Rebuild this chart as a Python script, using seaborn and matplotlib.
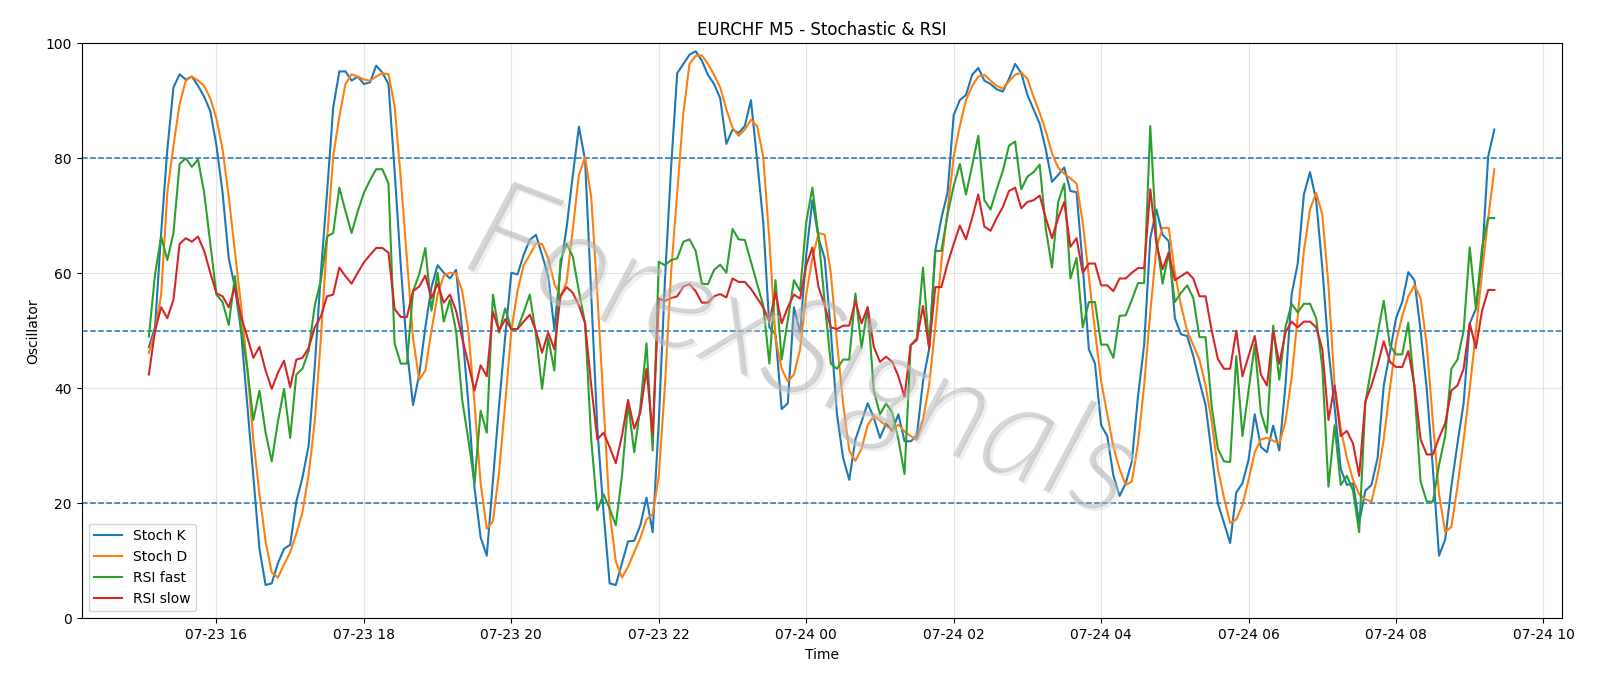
import numpy as np
import pandas as pd
import matplotlib
matplotlib.use("Agg")
import matplotlib.pyplot as plt
import matplotlib.dates as mdates
import matplotlib.patheffects as pe
import seaborn as sns

start_time = "2024-07-23 15:05"

stoch_k = [47.2, 50.6, 67, 81.5, 92.3, 94.6, 93.7, 94.2, 92.6, 90.7,
           88.2, 82.2, 74, 62.6, 57.6, 50, 37.4, 24.8, 12.1, 5.8,
           6.1, 9.6, 12.1, 12.8, 20.3, 24.5, 30, 43.7, 60.1, 74,
           88.8, 95.1, 95.1, 93.5, 94.2, 92.9, 93.2, 96.1, 94.9, 92.9,
           77.8, 61.4, 46.8, 37.1, 42.4, 50.6, 57.6, 61.4, 60.1, 59.1,
           60.6, 50, 37.4, 22.7, 14.1, 10.9, 24, 37, 49, 60.1,
           59.8, 63.2, 65.8, 66.7, 63.2, 59.5, 50.3, 61, 68, 77,
           85.5, 79.7, 56.3, 33, 18.5, 6.1, 5.8, 9.6, 13.4, 13.5,
           16.2, 21, 15, 34.2, 58.8, 78.4, 94.8, 96.4, 98, 98.6,
           97, 94.5, 92.9, 90.4, 82.5, 85, 84.4, 85.6, 90.1, 79.7,
           68.9, 50.6, 49.4, 36.4, 37.4, 54.1, 49.7, 63.2, 72.7, 66.1,
           62.6, 50, 35.5, 27.9, 24.1, 31.1, 34.2, 37.4, 34.9, 31.4,
           33.9, 32.6, 35.5, 30.8, 30.8, 31.7, 41.2, 46.8, 63.9, 69.6,
           74, 87.5, 90.1, 91, 94.5, 95.7, 93.5, 92.9, 92, 91.6,
           93.8, 96.4, 94.8, 91, 88.5, 86, 81.5, 75.9, 77.1, 78.4,
           74.3, 74.1, 61.4, 46.8, 44.3, 33.6, 31.7, 24.8, 21.3, 23.5,
           27.3, 38.6, 47.5, 66.1, 71.1, 66.7, 65.6, 52.2, 49.4, 49.1,
           45.6, 41.2, 37.1, 28.5, 20, 16.6, 13.1, 21.9, 23.5, 27.6,
           35.5, 29.8, 28.9, 33.5, 29.2, 40.5, 56.3, 61.7, 73.7, 77.6,
           72.7, 61, 46.8, 36.8, 26, 23.2, 23.5, 16.6, 22.2, 23.2,
           27.9, 40.5, 46.2, 52.2, 55, 60.2, 58.8, 50, 39.9, 26,
           10.9, 13.7, 22.9, 30.4, 37.4, 51.3, 53.8, 62.6, 80.3, 85]

stoch_d = [46.2, 50, 56.3, 74, 82.2, 89.4, 93.5, 94.2, 93.5, 92.6,
           90.4, 86.9, 81.5, 73.3, 63.9, 54.4, 43.7, 31.1, 21.6, 13.4,
           8, 7.1, 9.4, 11.5, 14.7, 18.5, 25, 34.2, 48.7, 65.8,
           80.3, 87.2, 92.9, 94.6, 94.2, 93.7, 93.5, 94.2, 94.8, 94.6,
           89.1, 76.5, 62.6, 48.7, 41.5, 43.1, 50, 56.3, 59.6, 60.1,
           60, 56.9, 50, 37.4, 23.5, 15.6, 16.9, 25.4, 37.4, 50,
           56.9, 61.4, 63.2, 65.2, 65.1, 62.6, 58.2, 56, 58.5, 67.7,
           77.1, 80.2, 73.3, 56.3, 37.4, 18.5, 9.9, 7.1, 9, 11.5,
           14, 17.2, 18.1, 24.8, 40.5, 60.1, 74, 87.9, 96.4, 97.8,
           97.9, 96.4, 94.5, 92.3, 88.5, 85.3, 83.9, 85, 86.7, 85.6,
           80.3, 65.8, 48.7, 43.4, 41.2, 42.4, 46.8, 56.3, 62.6, 67,
           66.7, 60.1, 48.1, 37.4, 29.2, 27.4, 29.5, 33.6, 35.2, 34.4,
           33.5, 32.8, 33.7, 32.5, 31.7, 31.1, 34.5, 40.5, 50.6, 62,
           70.8, 80.3, 85.6, 90.1, 92.6, 94.2, 94.5, 93.5, 92.6, 92.1,
           93.4, 94.5, 94.9, 93.8, 90.7, 87.9, 84.7, 80.9, 78.4, 77.3,
           76.5, 75.6, 68.9, 59.5, 50, 41.2, 35.5, 29.8, 26, 23.2,
           23.8, 30.4, 40.5, 53.2, 64.5, 67.9, 67.9, 60.1, 54.4, 50,
           47.5, 45, 40.5, 34.2, 26, 21, 16.6, 17.2, 19.7, 24.1,
           28.9, 31.1, 31.4, 30.9, 30.4, 34.2, 41.8, 52.5, 63.9, 71.1,
           74, 70.2, 58, 40.5, 33, 27.9, 24.1, 21.6, 20.7, 20.3,
           24.8, 31.1, 39.9, 48.1, 52.5, 56, 57.9, 55.7, 47.5, 34.2,
           21.6, 15, 15.9, 22.9, 31.1, 39.9, 50, 60.1, 69.6, 78.1]

rsi_fast = [49, 59.8, 66.4, 62.3, 67, 79, 80, 78.5, 79.8, 74,
            65.1, 56.3, 55, 51, 59.5, 50.6, 43.7, 34.5, 39.6, 32.3,
            27.3, 34.2, 39.9, 31.4, 42.4, 43.4, 46.5, 54.4, 58.8, 66.4,
            67, 74.9, 70.8, 67, 70.8, 74, 76.2, 78.1, 78.1, 75.6,
            47.8, 44.3, 44.3, 56.9, 59.8, 64.4, 53.5, 60.1, 51.6, 55.4,
            50, 38, 31.1, 23.5, 36.1, 32.3, 56.3, 49.7, 53.9, 50.3,
            50.3, 53.2, 56.3, 49.4, 39.9, 48.7, 43.1, 62.3, 65.1, 62.9,
            56.9, 51.3, 31.1, 18.8, 21.6, 19.1, 16.2, 24.8, 37.4, 28.9,
            36.8, 47.8, 29.2, 62, 61.4, 62.3, 62.6, 65.5, 65.9, 63.9,
            58.2, 58.1, 60.6, 61.5, 60.1, 67.7, 65.9, 65.8, 62, 58.2,
            54.4, 44.3, 58.8, 45, 51.9, 58.8, 56.9, 68.9, 74.9, 66.4,
            55, 44.3, 43.4, 45, 45, 56.5, 47, 54.1, 39.6, 35.5,
            37.4, 35.8, 31.1, 25.1, 47.5, 48.7, 61, 47, 63.9, 63.9,
            70.2, 75.2, 79, 73.7, 78.7, 83.9, 72.7, 71.1, 74.6, 77.8,
            82.2, 82.9, 74.6, 76.8, 77.6, 78.9, 67.7, 61, 72.4, 75.6,
            59.1, 62.7, 50.6, 55, 55, 47.6, 47.6, 45.3, 52.6, 52.7,
            55.4, 58.3, 58.3, 85.6, 66, 58.2, 63.6, 55, 56.6, 57.9,
            55.7, 48.9, 48.9, 36.8, 29.5, 27.3, 27.2, 45.6, 31.7, 39.6,
            47.6, 35.8, 32.3, 50.9, 41.5, 50.6, 54.7, 53.2, 54.7, 54.7,
            52.2, 43.7, 22.9, 33.6, 23.2, 24.8, 22.2, 15, 37.4, 43.7,
            49.4, 55.2, 47.5, 45.9, 45.9, 51.4, 39.9, 23.8, 20.3, 20.3,
            26.7, 31.7, 43.4, 45, 50, 64.5, 53.8, 64.5, 69.6, 69.6]

rsi_slow = [42.4, 50, 54.1, 52.2, 55.4, 65.1, 66.1, 65.5, 66.4, 63.9,
            60.1, 56.5, 56, 54.1, 57.6, 52.5, 49, 45.3, 47.2, 43.1,
            39.9, 42.7, 44.8, 40.2, 45, 45.3, 47, 50.6, 52.5, 56,
            56.3, 61, 59.5, 58.2, 60.1, 61.9, 63.2, 64.4, 64.4, 63.6,
            53.8, 52.4, 52.4, 56.9, 57.7, 59.6, 55.7, 58.2, 54.9, 56.3,
            53.5, 48.7, 44.3, 39.6, 44, 42.1, 53.3, 50, 52, 50.3,
            50.3, 51.6, 52.8, 50, 46.2, 49.7, 46.8, 56, 57.6, 56.6,
            54.4, 51.3, 40.5, 31.1, 32.3, 29.8, 27, 31.7, 38, 33,
            35.8, 43.4, 32, 55.6, 55.2, 55.7, 56, 57.7, 58.1, 56.9,
            54.9, 54.9, 56, 56.4, 55.8, 59.1, 58.5, 58.5, 57.3, 55.7,
            54.1, 51.6, 56.6, 51.3, 54.1, 56.3, 55.6, 61.4, 64.5, 57.6,
            54.4, 50.6, 50.3, 50.9, 50.9, 55.2, 51.3, 54.1, 47.2, 44.6,
            45.5, 44.6, 42.1, 38.5, 47.5, 48.4, 54.3, 47, 57.6, 57.6,
            61.7, 65.1, 68.3, 65.9, 69.6, 73.7, 68.1, 67.4, 69.6, 71.5,
            74.3, 74.9, 71.3, 72.4, 72.7, 73.5, 69.6, 66.1, 69.6, 72.4,
            64.6, 66.1, 60.1, 61.7, 61.7, 57.9, 57.9, 56.9, 59.1, 59.1,
            60.1, 60.9, 60.9, 74.6, 65.1, 60.7, 63.6, 58.8, 59.5, 60.2,
            59.1, 56, 56, 50, 45.1, 43.4, 43.4, 50, 42.1, 45.6,
            49.1, 42.4, 40.5, 50, 44.3, 49.7, 51.6, 50.6, 51.6, 51.6,
            50.6, 46.8, 34.5, 40.5, 31.7, 32.6, 30.4, 24.8, 37.7, 40.5,
            44, 48.2, 44.6, 43.7, 43.7, 46.5, 40.5, 31.1, 28.5, 28.5,
            31.4, 33.9, 39.6, 40.5, 43.4, 51.3, 47, 53.5, 57.1, 57.1]

series_names = ["Stoch K", "Stoch D", "RSI fast", "RSI slow"]
series_colors = ["#1f77b4", "#ff7f0e", "#2ca02c", "#d62728"]
levels = [20, 50, 80]

n = len(stoch_k)
times = pd.date_range(start_time, periods=n, freq="5min")
df = pd.DataFrame({"Time": times, "Stoch K": stoch_k, "Stoch D": stoch_d,
                   "RSI fast": rsi_fast, "RSI slow": rsi_slow})

fig, ax = plt.subplots(figsize=(16, 6.86), dpi=100)
fig.subplots_adjust(left=0.051, right=0.976, bottom=0.0985, top=0.937)

for name, col in zip(series_names, series_colors):
    sns.lineplot(data=df, x="Time", y=name, ax=ax, color=col, label=name,
                 linewidth=1.5, zorder=3)

for lv in levels:
    ax.axhline(lv, color="#1f77b4", linestyle="--", linewidth=1.1, zorder=2)

ax.text(0.486, 0.455, "ForexSignals", transform=ax.transAxes,
        fontsize=100, fontstyle="italic", fontweight=300,
        family=["Lato", "Open Sans", "DejaVu Sans"],
        color="#a8a8a8", alpha=0.45,
        rotation=-21, ha="center", va="center", zorder=4,
        path_effects=[pe.withSimplePatchShadow(offset=(2, -2),
                                               shadow_rgbFace="#d8d8d8",
                                               alpha=0.4)])

ax.set_ylim(0, 100)
ax.grid(True, color="#b0b0b0", alpha=0.35, linewidth=0.8)
ax.xaxis.set_major_locator(mdates.HourLocator(byhour=range(0, 24, 2)))
ax.xaxis.set_major_formatter(mdates.DateFormatter("%m-%d %H"))
ax.set_xlabel("Time", fontsize=10)
ax.set_ylabel("Oscillator", fontsize=10)
ax.set_title("EURCHF M5 - Stochastic & RSI", fontsize=12)
ax.tick_params(labelsize=10)
ax.legend(loc="lower left", fontsize=10)

fig.savefig("out.png", dpi=100)
